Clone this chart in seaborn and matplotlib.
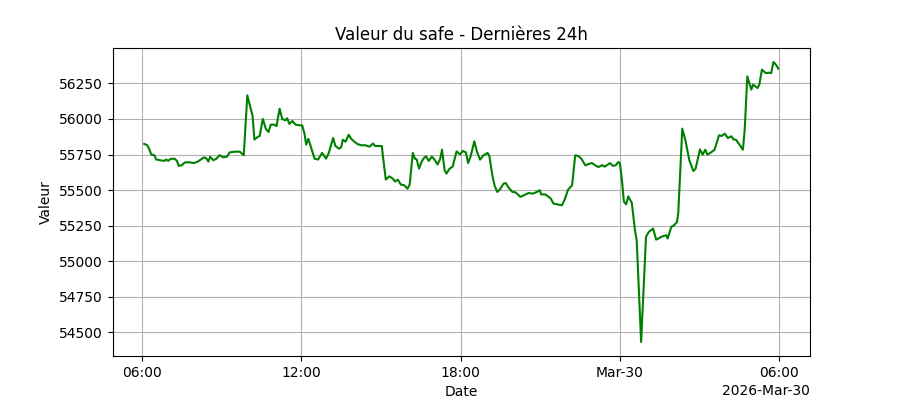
import pandas as pd
import matplotlib
matplotlib.use("Agg")
import matplotlib.pyplot as plt
import matplotlib.dates as mdates
import seaborn as sns

# Data (minutes after 2026-03-29 06:00)
start = "2026-03-29 06:00"

minutes = [
    5, 12, 16, 21, 28, 32, 41, 50, 55, 59, 65, 74, 79, 83, 90, 97, 108, 117,
    126, 133, 140, 145, 150, 154, 161, 168, 175, 184, 192, 198, 210, 221, 230,
    238, 246, 250, 254, 262, 266, 273, 280, 286, 291, 298, 304, 311, 317, 324,
    328, 333, 340, 347, 356, 362, 367, 371, 376, 383, 390, 398, 407, 416, 422,
    432, 437, 445, 450, 454, 460, 467, 473, 480, 488, 496, 505, 514, 522, 527,
    542, 544, 551, 559, 567, 572, 578, 585, 592, 600, 605, 612, 617, 621, 626,
    632, 637, 642, 648, 655, 661, 668, 674, 678, 684, 688, 695, 702, 711, 719,
    725, 732, 737, 743, 751, 757, 764, 772, 781, 785, 792, 797, 803, 810, 817,
    822, 828, 837, 844, 851, 855, 864, 874, 883, 891, 899, 902, 911, 918, 924,
    930, 938, 949, 956, 963, 972, 979, 986, 993, 1002, 1011, 1017, 1024, 1031,
    1040, 1046, 1058, 1064, 1071, 1076, 1080, 1085, 1089, 1094, 1099, 1107,
    1110, 1114, 1118, 1128, 1139, 1145, 1155, 1162, 1170, 1176, 1185, 1188,
    1196, 1203, 1209, 1212, 1221, 1228, 1237, 1246, 1251, 1261, 1267, 1273,
    1278, 1286, 1294, 1304, 1310, 1317, 1324, 1332, 1337, 1342, 1348, 1358,
    1362, 1368, 1377, 1381, 1391, 1395, 1401, 1410, 1418, 1422, 1427, 1433, 1438,
]

values = [
    55825, 55815, 55790, 55750, 55745, 55715, 55710, 55705, 55715, 55705,
    55720, 55720, 55705, 55670, 55675, 55695, 55695, 55690, 55700, 55715,
    55730, 55725, 55700, 55735, 55710, 55720, 55745, 55730, 55735, 55765,
    55770, 55770, 55745, 56166, 56070, 56020, 55855, 55875, 55880, 56000,
    55930, 55908, 55960, 55960, 55950, 56072, 56000, 55990, 56005, 55965,
    55985, 55960, 55955, 55955, 55900, 55820, 55860, 55790, 55721, 55715,
    55761, 55721, 55760, 55866, 55810, 55791, 55800, 55854, 55840, 55889,
    55860, 55840, 55822, 55815, 55815, 55805, 55827, 55810, 55810, 55750,
    55574, 55597, 55580, 55560, 55574, 55539, 55535, 55510, 55540, 55761,
    55720, 55715, 55651, 55700, 55725, 55737, 55705, 55735, 55715, 55680,
    55720, 55784, 55640, 55616, 55650, 55665, 55772, 55750, 55775, 55765,
    55690, 55740, 55843, 55770, 55714, 55745, 55761, 55740, 55600, 55530,
    55487, 55510, 55545, 55550, 55520, 55487, 55485, 55465, 55452, 55465,
    55480, 55475, 55485, 55499, 55470, 55470, 55455, 55440, 55405, 55400,
    55393, 55440, 55504, 55534, 55744, 55740, 55720, 55674, 55685, 55690,
    55675, 55662, 55675, 55665, 55690, 55670, 55675, 55697, 55690, 55560,
    55420, 55400, 55456, 55410, 55330, 55218, 55148, 54433, 55171, 55205,
    55230, 55152, 55165, 55175, 55183, 55160, 55241, 55255, 55276, 55340,
    55932, 55850, 55709, 55634, 55650, 55786, 55749, 55784, 55749, 55765,
    55784, 55885, 55880, 55897, 55866, 55878, 55855, 55855, 55830, 55784,
    55920, 56299, 56206, 56241, 56217, 56240, 56346, 56322, 56325, 56322,
    56400, 56380, 56353,
]

df = pd.DataFrame({
    "Date": pd.Timestamp(start) + pd.to_timedelta(minutes, unit="m"),
    "Valeur": values,
})

fig, ax = plt.subplots(figsize=(9, 4), dpi=100)

sns.lineplot(data=df, x="Date", y="Valeur", color="green", linewidth=1.5, ax=ax)

locator = mdates.HourLocator(byhour=[0, 6, 12, 18])
ax.xaxis.set_major_locator(locator)
ax.xaxis.set_major_formatter(mdates.ConciseDateFormatter(locator))

ax.set_title("Valeur du safe - Dernières 24h")
ax.set_xlabel("Date")
ax.set_ylabel("Valeur")
ax.grid(True)

plt.savefig("out.png", dpi=100)
plt.close()
